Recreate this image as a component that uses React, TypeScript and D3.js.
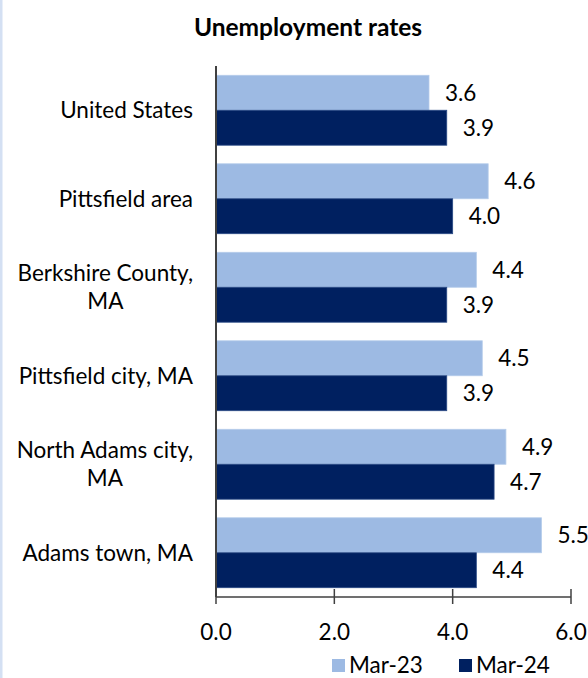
import * as d3 from "d3";
import React, { useEffect, useRef } from "react";

const categories = [
    "United States",
    "Pittsfield area",
    "Berkshire County, MA",
    "Pittsfield city, MA",
    "North Adams city, MA",
    "Adams town, MA",
];
// label lines as they wrap in the picture
const labelLines = [
    ["United States"],
    ["Pittsfield area"],
    ["Berkshire County,", "MA"],
    ["Pittsfield city, MA"],
    ["North Adams city,", "MA"],
    ["Adams town, MA"],
];
const seriesNames = ["Mar-23", "Mar-24"];
const mar23 = [3.6, 4.6, 4.4, 4.5, 4.9, 5.5];
const mar24 = [3.9, 4.0, 3.9, 3.9, 4.7, 4.4];
const xTicks = [0, 2, 4, 6];

const W = 588;
const H = 678;
const colours = ["#9dbae3", "#002060"];
const font = "Lato, 'Open Sans', sans-serif";
const fs = 22.5;

function App() {
    const svgRef: any = useRef<any>(null);

    useEffect(() => {
        draw();
    }, []);

    const draw = () => {
        const svg = d3.select(svgRef.current);
        svg.selectAll("*").remove();

        const left = 216, right = 571, top = 66, bottom = 597;

        // thin strip at the page's left edge
        svg.append("rect").attr("x", 0).attr("y", 0).attr("width", 2.5).attr("height", H)
            .attr("fill", "#d4e0f3");

        svg.append("text")
            .attr("x", 308).attr("y", 36)
            .attr("text-anchor", "middle")
            .attr("font-family", font).attr("font-weight", "bold").attr("font-size", 24.5)
            .attr("fill", "#000")
            .text("Unemployment rates");

        const x = d3.scaleLinear().domain([0, 6]).range([left, right]);
        const y = d3.scaleBand().domain(categories).range([top, bottom]).paddingInner(0.21).paddingOuter(0.105);
        const ySub = d3.scaleBand().domain(seriesNames).range([0, y.bandwidth()]);

        const data = categories.map((c, i) => ({ c, vals: [mar23[i], mar24[i]] }));

        const groups = svg.append("g").selectAll("g").data(data).join("g")
            .attr("transform", d => `translate(0,${y(d.c)})`);

        groups.selectAll("rect").data(d => d.vals.map((v, k) => ({ v, k }))).join("rect")
            .attr("x", x(0))
            .attr("y", d => ySub(seriesNames[d.k])!)
            .attr("width", d => x(d.v) - x(0))
            .attr("height", ySub.bandwidth())
            .attr("fill", d => colours[d.k])
            .attr("stroke", d => d.k === 0 ? "#b4cbea" : "#2a4a86")
            .attr("stroke-width", 0.8);

        groups.selectAll("text.val").data(d => d.vals.map((v, k) => ({ v, k }))).join("text")
            .attr("class", "val")
            .attr("x", d => x(d.v) + 16)
            .attr("y", d => ySub(seriesNames[d.k])! + ySub.bandwidth() / 2)
            .attr("dy", "0.35em")
            .attr("font-family", font).attr("font-size", fs)
            .attr("fill", "#000")
            .text(d => d3.format(".1f")(d.v));

        // category labels: block right-aligned, lines centred within it
        const labelRight = 193;
        categories.forEach((c, i) => {
            const lines = labelLines[i];
            const cy = y(c)! + y.bandwidth() / 2;
            const lineH = 28;
            const t = svg.append("text")
                .attr("font-family", font).attr("font-size", fs)
                .attr("fill", "#000")
                .attr("text-anchor", "middle");
            const spans = lines.map((l, j) =>
                t.append("tspan")
                    .attr("y", cy + (j - (lines.length - 1) / 2) * lineH)
                    .attr("dy", "0.35em")
                    .text(l));
            let maxW = 0;
            spans.forEach(s => {
                const node: any = s.node();
                maxW = Math.max(maxW, node.getComputedTextLength());
            });
            spans.forEach(s => s.attr("x", labelRight - maxW / 2));
        });

        // axes
        svg.append("line")
            .attr("x1", left).attr("x2", left).attr("y1", top).attr("y2", bottom)
            .attr("stroke", "#404040").attr("stroke-width", 2);

        const xAxis = svg.append("g").attr("transform", `translate(0,${bottom})`);
        xAxis.append("line")
            .attr("x1", left).attr("x2", right).attr("y1", 0).attr("y2", 0)
            .attr("stroke", "#404040").attr("stroke-width", 1.5);
        xAxis.selectAll("line.tick").data(xTicks).join("line")
            .attr("class", "tick")
            .attr("x1", d => x(d)).attr("x2", d => x(d))
            .attr("y1", -8).attr("y2", 7)
            .attr("stroke", "#404040").attr("stroke-width", 1.5);
        xAxis.selectAll("text").data(xTicks).join("text")
            .attr("x", d => x(d)).attr("y", 43)
            .attr("text-anchor", "middle")
            .attr("font-family", font).attr("font-size", fs)
            .attr("fill", "#000")
            .text(d => d3.format(".1f")(d));

        // legend
        const legendX = [332, 459];
        const lg = svg.append("g").selectAll("g").data(seriesNames).join("g")
            .attr("transform", (d, i) => `translate(${legendX[i]},659)`);
        lg.append("rect").attr("width", 13).attr("height", 13)
            .attr("fill", (d, i) => colours[i]);
        lg.append("text")
            .attr("x", 17).attr("y", 6.5).attr("dy", "0.35em")
            .attr("font-family", font).attr("font-size", fs)
            .attr("fill", "#000")
            .text(d => d);
    };

    return (
        <div style={{ position: "fixed", left: 0, top: 0, width: W, height: H, background: "#fff" }}>
            <svg ref={svgRef} width={W} height={H} style={{ display: "block" }} />
        </div>
    );
}

export default App;
